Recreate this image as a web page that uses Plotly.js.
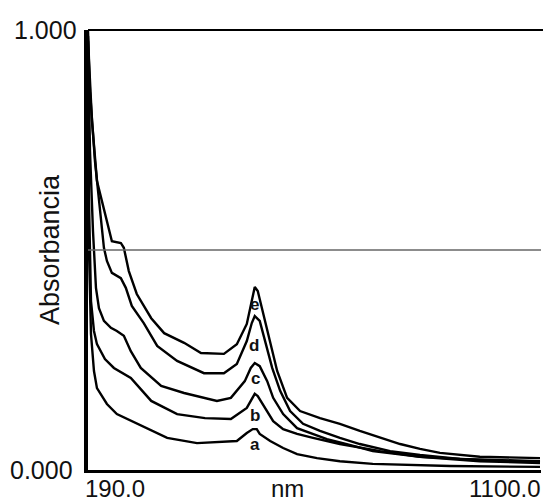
<!DOCTYPE html>
<html>
<head>
<meta charset="utf-8">
<script src="https://cdn.plot.ly/plotly-3.0.1.min.js"></script>
<style>html,body{margin:0;padding:0;background:#fff;}#chart{width:543px;height:503px;}</style>
</head>
<body>
<div id="chart"></div>
<script>
// Wavelength (nm) and absorbance values
const wlE = [190,192,198,204,208,218,232,238,256,262,272,288,317,343,383,417,463,489,509,519,525,531,542,556,570,590,616,656,696,736,777,817,857,897,977,1098];
const absE = [0.998,0.930,0.793,0.702,0.657,0.611,0.543,0.520,0.516,0.505,0.452,0.400,0.345,0.311,0.289,0.266,0.264,0.286,0.332,0.384,0.416,0.407,0.355,0.286,0.225,0.164,0.134,0.118,0.105,0.089,0.073,0.059,0.048,0.039,0.030,0.027];

const wlD = [190,194,204,212,216,222,228,238,256,266,278,302,329,369,423,463,489,509,519,525,535,546,560,576,596,622,656,696,736,797,857,937,1098];
const absD = [0.986,0.861,0.702,0.611,0.559,0.505,0.475,0.448,0.436,0.414,0.373,0.334,0.282,0.248,0.220,0.220,0.241,0.293,0.334,0.350,0.339,0.293,0.232,0.180,0.134,0.105,0.089,0.073,0.059,0.043,0.034,0.025,0.020];

const wlC = [190,194,200,206,212,222,236,248,262,276,296,337,383,449,477,505,517,525,535,550,562,582,610,642,670,710,762,857,977,1098];
const absC = [0.975,0.725,0.543,0.414,0.368,0.339,0.323,0.316,0.305,0.270,0.232,0.191,0.175,0.157,0.164,0.202,0.232,0.243,0.236,0.202,0.164,0.127,0.095,0.082,0.070,0.059,0.043,0.030,0.023,0.018];

const wlB = [190,192,196,202,208,224,242,276,317,369,425,477,509,525,531,546,562,582,610,642,696,777,857,977,1098];
const absB = [0.930,0.611,0.384,0.316,0.286,0.252,0.232,0.209,0.157,0.127,0.118,0.116,0.141,0.173,0.168,0.141,0.111,0.093,0.082,0.073,0.059,0.043,0.030,0.020,0.016];

const wlA = [190,192,196,202,208,228,248,288,349,409,489,509,521,529,535,556,582,610,650,696,762,917,1098];
const absA = [0.839,0.498,0.309,0.225,0.186,0.150,0.127,0.105,0.073,0.061,0.066,0.084,0.093,0.093,0.082,0.066,0.050,0.036,0.027,0.020,0.014,0.009,0.007];

const curveLabels = ['a','b','c','d','e'];
const labelX = [526,526,526,524,524];
const labelY = [0.059,0.123,0.207,0.282,0.377];

const xTickLabels = ['190.0','1100.0'];
const yTickLabels = ['0.000','1.000'];
const xTitle = 'nm';
const yTitle = 'Absorbancia';

const series = [[wlA,absA],[wlB,absB],[wlC,absC],[wlD,absD],[wlE,absE]];
const traces = series.map((s,i)=>({
  x: s[0], y: s[1], type:'scatter', mode:'lines', name: curveLabels[i],
  line:{color:'#000', width:2.4}, hoverinfo:'skip'
}));

const FONT = 'Liberation Sans, Arial, sans-serif';
const annotations = [];
curveLabels.forEach((t,i)=>annotations.push({
  x: labelX[i], y: labelY[i], xref:'x', yref:'y', text: t, showarrow:false,
  font:{family:FONT, size:17, color:'#111', weight:'bold'}
}));
annotations.push({x:0, y:0, xref:'paper', yref:'y', text:yTickLabels[0], showarrow:false, xanchor:'right', yanchor:'middle', xshift:-13, font:{family:FONT,size:25,color:'#111'}});
annotations.push({x:0, y:1, xref:'paper', yref:'y', text:yTickLabels[1], showarrow:false, xanchor:'right', yanchor:'middle', xshift:-9, font:{family:FONT,size:25,color:'#111'}});
annotations.push({x:0, y:0, xref:'paper', yref:'paper', text:xTickLabels[0], showarrow:false, xanchor:'left', yanchor:'top', xshift:-5, yshift:-3, font:{family:FONT,size:24,color:'#111'}});
annotations.push({x:1, y:0, xref:'paper', yref:'paper', text:xTickLabels[1], showarrow:false, xanchor:'right', yanchor:'top', xshift:2, yshift:-3, font:{family:FONT,size:24,color:'#111'}});
annotations.push({x:0.44, y:0, xref:'paper', yref:'paper', text:xTitle, showarrow:false, xanchor:'center', yanchor:'top', yshift:-3, font:{family:FONT,size:24,color:'#111'}});
annotations.push({x:0, y:0.5, xref:'paper', yref:'paper', text:yTitle, showarrow:false, textangle:-90, xanchor:'center', yanchor:'middle', xshift:-38, font:{family:FONT,size:27,color:'#111'}});

const layout = {
  width:543, height:503,
  margin:{l:88, r:2, t:30, b:33},
  paper_bgcolor:'#fff', plot_bgcolor:'#fff',
  showlegend:false,
  xaxis:{range:[190,1100], showgrid:false, zeroline:false, showticklabels:false, ticks:'', showline:true, linecolor:'#000', linewidth:3},
  yaxis:{range:[0,1], showgrid:false, zeroline:false, showticklabels:false, ticks:'', showline:true, linecolor:'#000', linewidth:4},
  shapes:[
    {type:'line', xref:'paper', yref:'y', x0:0, x1:1, y0:0.5, y1:0.5, line:{color:'#666', width:1.6}},
    {type:'line', xref:'paper', yref:'paper', x0:0, x1:1.01, y0:1, y1:1, line:{color:'#000', width:2}}
  ],
  annotations: annotations
};

Plotly.newPlot('chart', traces, layout, {displayModeBar:false, staticPlot:true});
</script>
</body>
</html>
